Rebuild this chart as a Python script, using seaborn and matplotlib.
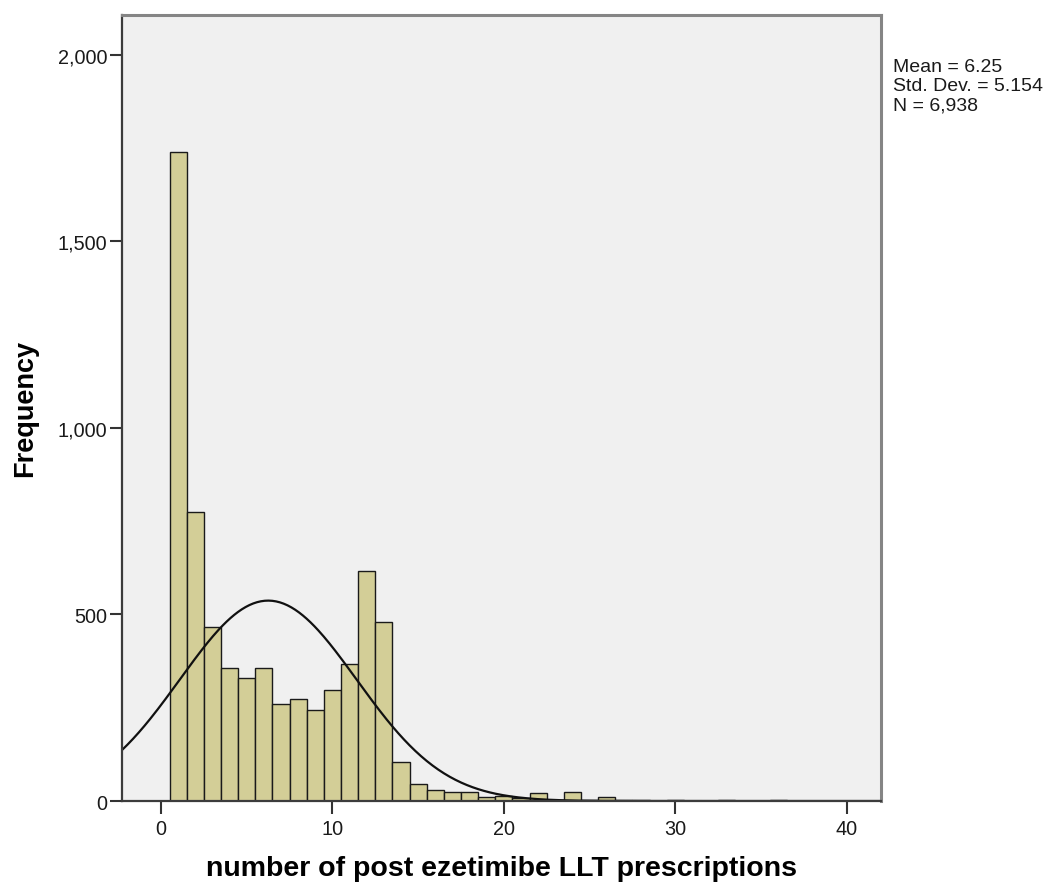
# pandas - hold the histogram counts in a small table
import pandas as pd

# numpy - the normal curve
import numpy as np

# seaborn - draw the histogram
import seaborn as sns

# matplotlib - figure, axes and text
import matplotlib.pyplot as plt
from matplotlib.ticker import FuncFormatter

import warnings
warnings.filterwarnings('ignore')

# number of prescriptions (bin centres) and how many patients had each
prescriptions = list(range(1, 40))
frequency = [1740, 775, 465, 356, 330, 357, 259, 274, 243, 297,
             366, 617, 480, 104, 45, 29, 23, 23, 12, 14,
             7, 21, 3, 23, 4, 10, 3, 3, 1, 2,
             1, 0, 2, 1, 0, 2, 1, 1, 0]

# summary statistics shown next to the chart
mean_value = 6.25
std_value = 5.154
n_value = 6938

x_ticks = [0, 10, 20, 30, 40]
y_ticks = [0, 500, 1000, 1500, 2000]

df = pd.DataFrame({"prescriptions": prescriptions, "frequency": frequency})

sns.set_style("white")
plt.rcParams['font.family'] = ['Liberation Sans', 'DejaVu Sans']

fig = plt.figure(figsize=(10.56, 8.87), dpi=100)
ax = fig.add_axes([0.1155, 0.0958, 0.7188, 0.8865])
ax.set_facecolor("#f0f0f0")

# bins of width 1 centred on every whole number
sns.histplot(data=df, x="prescriptions", weights="frequency",
             binwidth=1, binrange=(0.5, 39.5),
             color="#d3ce97", edgecolor="#1a1a1a", linewidth=1.0, alpha=1,
             ax=ax)

# normal curve scaled to the counts (bin width 1)
xs = np.linspace(-2.3, 42.1, 400)
ys = n_value * np.exp(-0.5 * ((xs - mean_value) / std_value) ** 2) / (std_value * np.sqrt(2 * np.pi))
sns.lineplot(x=xs, y=ys, color="#111111", linewidth=1.6, ax=ax)

ax.set_xlim(-2.28, 42.0)
ax.set_ylim(0, 2107)
ax.set_xticks(x_ticks)
ax.set_yticks(y_ticks)
ax.yaxis.set_major_formatter(FuncFormatter(lambda v, p: f"{int(v):,}"))
ax.tick_params(axis="both", direction="out", length=9, width=1.5,
               bottom=True, left=True, color="#333333",
               labelsize=14.3, labelcolor="#1a1a1a")
ax.tick_params(axis="x", pad=4)
ax.tick_params(axis="y", pad=1.5)

for side in ["left", "bottom"]:
    ax.spines[side].set_color("#3c3c3c")
    ax.spines[side].set_linewidth(1.6)
for side in ["top", "right"]:
    ax.spines[side].set_color("#858585")
    ax.spines[side].set_linewidth(2.2)

ax.set_xlabel("number of post ezetimibe LLT prescriptions", fontsize=20.5,
              fontweight="bold", va="center", color="black")
ax.set_ylabel("Frequency", fontsize=19.5, fontweight="bold", va="center",
              color="black")
ax.xaxis.set_label_coords(0.5, -0.085)
ax.yaxis.set_label_coords(-0.128, 0.5)

fig.text(0.8456, 0.934,
         f"Mean = {mean_value}\nStd. Dev. = {std_value}\nN = {n_value:,}",
         fontsize=14, va="top", ha="left", color="#1a1a1a", linespacing=1.2)

plt.savefig("out.png", dpi=100)
